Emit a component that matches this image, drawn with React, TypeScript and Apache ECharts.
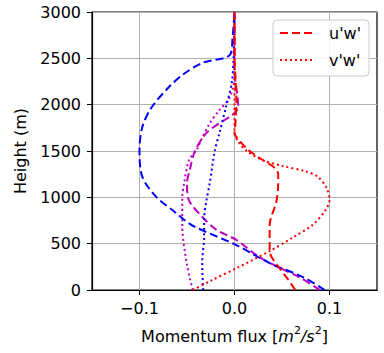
import React, { useEffect, useRef } from "react";
import * as echarts from "echarts";

// Heights (m) and momentum flux values (m^2/s^2)
const H_RED_DASH = [0, 120, 240, 420, 700, 950, 1150, 1250, 1320, 1400, 1500, 1600, 1700, 1800, 2050, 2300, 2500, 3000];
const RED_DASH = [0.064, 0.056, 0.047, 0.037, 0.037, 0.044, 0.046, 0.046, 0.042, 0.03, 0.016, 0.006, 0.0, 0.001, 0.002, 0.001, 0.0, 0.0];

const H_RED_DOT = [0, 100, 240, 420, 570, 700, 850, 970, 1100, 1220, 1280, 1340, 1400, 1500, 1600, 1700, 2000, 2500, 3000];
const RED_DOT = [-0.044, -0.025, 0.003, 0.037, 0.062, 0.082, 0.095, 0.1, 0.097, 0.088, 0.075, 0.05, 0.03, 0.013, 0.004, 0.0, 0.0, 0.0, 0.0];

const H_BLUE_DASH = [0, 140, 290, 485, 700, 860, 1000, 1220, 1510, 1760, 1975, 2190, 2320, 2450, 2535, 2730, 3000];
const BLUE_DASH = [0.095, 0.072, 0.037, 0.002, -0.045, -0.065, -0.082, -0.097, -0.1, -0.097, -0.087, -0.069, -0.055, -0.034, -0.005, -0.002, 0.0];

const H_BLUE_DOT = [0, 300, 570, 755, 940, 1155, 1490, 1690, 1975, 2230, 2500, 3000];
const BLUE_DOT = [-0.033, -0.034, -0.032, -0.032, -0.03, -0.026, -0.021, -0.016, -0.009, -0.003, -0.001, 0.0];

const H_MAG_DASH = [0, 140, 237, 356, 540, 650, 790, 970, 1155, 1300, 1490, 1690, 1800, 1890, 1975, 2100, 2373, 3000];
const MAG_DASH = [0.09, 0.068, 0.048, 0.026, 0.002, -0.019, -0.034, -0.048, -0.05, -0.047, -0.042, -0.03, -0.016, -0.002, 0.004, 0.003, 0.0, 0.0];

const H_MAG_DOT = [0, 270, 700, 1000, 1155, 1400, 1510, 1620, 1800, 1940, 2080, 2300, 3000];
const MAG_DOT = [-0.044, -0.05, -0.055, -0.055, -0.053, -0.048, -0.04, -0.035, -0.026, -0.016, -0.005, 0.0, 0.0];

const X_TICKS = [-0.1, 0.0, 0.1];
const X_TICK_LABELS = ["\u22120.1", "0.0", "0.1"];
const LEGEND_NAMES = ["u'w'", "v'w'"];

const FONT = "DejaVu Sans";
const DASH = [8, 4];
const DOT = [2, 3];

function pairs(xs: number[], hs: number[]) {
  return xs.map((v, i) => [v, hs[i]]);
}

function lineSeries(name: string, xs: number[], hs: number[], color: string, dash: number[]) {
  return {
    name,
    type: "line",
    data: pairs(xs, hs),
    symbol: "none",
    smooth: 0.3,
    lineStyle: { color, width: 2, type: dash },
    itemStyle: { color },
  };
}

export default function App() {
  const ref = useRef<HTMLDivElement>(null);
  useEffect(() => {
    if (!ref.current) return;
    const chart = echarts.init(ref.current, null, { renderer: "svg" });
    chart.setOption({
      animation: false,
      backgroundColor: "#ffffff",
      grid: {
        left: 92,
        right: 7,
        top: 12,
        bottom: 63,
        show: true,
        borderColor: "#000",
        borderWidth: 1.2,
        backgroundColor: "transparent",
      },
      legend: {
        data: LEGEND_NAMES,
        orient: "vertical",
        left: 273,
        top: 20,
        padding: [5, 8, 8, 6],
        itemWidth: 34,
        itemHeight: 16,
        itemGap: 11,
        itemStyle: { opacity: 0 },
        backgroundColor: "rgba(255,255,255,0.85)",
        borderColor: "#cccccc",
        borderWidth: 1,
        borderRadius: 4,
        textStyle: { fontFamily: FONT, fontSize: 16, color: "#000", padding: [0, 0, 0, 10] },
      },
      xAxis: {
        type: "value",
        min: -0.15,
        max: 0.15,
        name: "Momentum flux [{i|m}{sup|2}{i|/s}{sup|2}]",
        nameLocation: "middle",
        nameGap: 35,
        nameTextStyle: {
          fontFamily: FONT,
          fontSize: 16,
          color: "#000",
          lineHeight: 22,
          rich: {
            i: { fontFamily: FONT, fontSize: 16, fontStyle: "italic", color: "#000", lineHeight: 22 },
            sup: { fontFamily: FONT, fontSize: 11, color: "#000", lineHeight: 11, verticalAlign: "top" },
          },
        },
        axisLine: { show: true, onZero: false, lineStyle: { color: "#000", width: 1.2 } },
        axisTick: { show: true, inside: false, length: 5, customValues: X_TICKS, lineStyle: { color: "#000" } },
        axisLabel: {
          customValues: X_TICKS,
          margin: 10,
          fontFamily: FONT,
          fontSize: 16,
          color: "#000",
          formatter: (v: number) => {
            const idx = X_TICKS.findIndex((t) => Math.abs(t - v) < 1e-9);
            return idx >= 0 ? X_TICK_LABELS[idx] : "";
          },
        },
        splitLine: { show: true, lineStyle: { color: "#b0b0b0", width: 1 } },
      },
      yAxis: {
        type: "value",
        min: 0,
        max: 3000,
        interval: 500,
        name: "Height (m)",
        nameLocation: "middle",
        nameGap: 64,
        nameTextStyle: { fontFamily: FONT, fontSize: 16, color: "#000" },
        axisLine: { show: true, onZero: false, lineStyle: { color: "#000", width: 1.2 } },
        axisTick: { show: true, inside: false, length: 5, lineStyle: { color: "#000" } },
        axisLabel: {
          margin: 11,
          fontFamily: FONT,
          fontSize: 16,
          color: "#000",
          formatter: (v: number) => String(v),
        },
        splitLine: { show: true, lineStyle: { color: "#b0b0b0", width: 1 } },
      },
      series: [
        lineSeries("uw3", MAG_DASH, H_MAG_DASH, "#bf00bf", DASH),
        lineSeries("vw3", MAG_DOT, H_MAG_DOT, "#bf00bf", DOT),
        lineSeries("uw2", BLUE_DASH, H_BLUE_DASH, "#0000ff", DASH),
        lineSeries("vw2", BLUE_DOT, H_BLUE_DOT, "#0000ff", DOT),
        lineSeries(LEGEND_NAMES[0], RED_DASH, H_RED_DASH, "#ff0000", DASH),
        lineSeries(LEGEND_NAMES[1], RED_DOT, H_RED_DOT, "#ff0000", DOT),
      ],
    });
    return () => chart.dispose();
  }, []);
  return (
    <div
      ref={ref}
      style={{ position: "absolute", left: 0, top: 0, width: 384, height: 353, background: "#fff" }}
    />
  );
}
